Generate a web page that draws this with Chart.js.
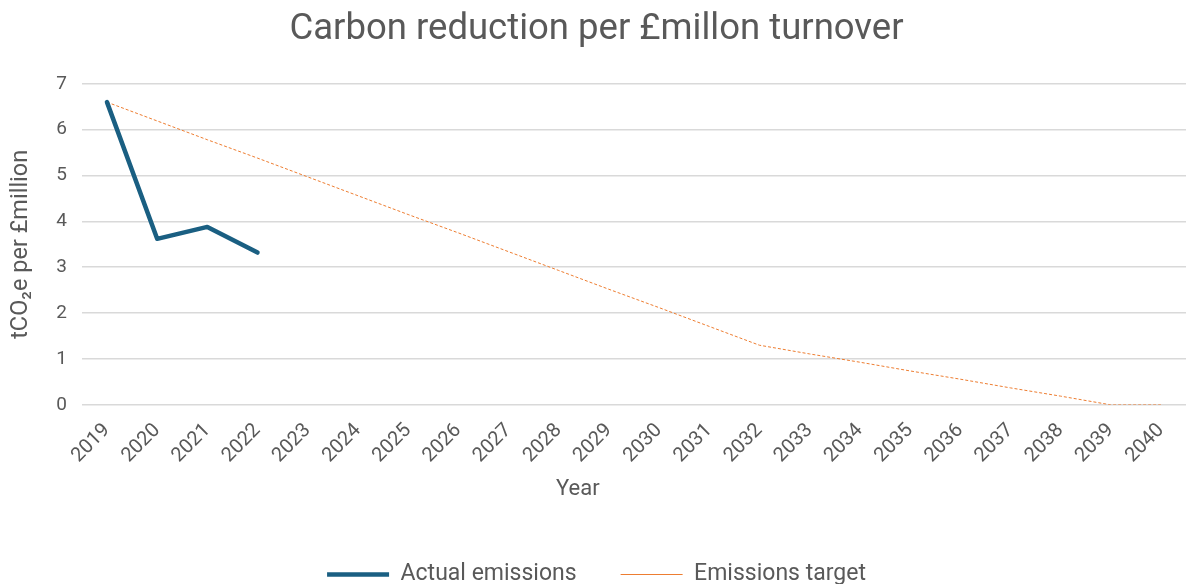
<!DOCTYPE html>
<html>
<head>
<meta charset="utf-8">
<script src="https://cdn.jsdelivr.net/npm/chart.js@4/dist/chart.umd.min.js"></script>
<style>
  html, body { margin: 0; padding: 0; background: #fff; }
  #wrap { width: 1186px; height: 584px; }
</style>
</head>
<body>
<div id="wrap"><canvas id="carbonChart"></canvas></div>
<script>
// Data
const years = ["2019", "2020", "2021", "2022", "2023", "2024", "2025", "2026", "2027", "2028", "2029",
    "2030", "2031", "2032", "2033", "2034", "2035", "2036", "2037", "2038", "2039", "2040"];
const actualEmissions = [6.6, 3.62, 3.88, 3.32];
const emissionsTarget = [6.6, 6.19, 5.78, 5.38, 4.97, 4.56, 4.15, 3.75, 3.34, 2.93, 2.52,
    2.12, 1.71, 1.3, 1.11, 0.93, 0.74, 0.56, 0.37, 0.19, 0, 0];
const yTicks = [0, 1, 2, 3, 4, 5, 6, 7];

const textColor = "#595959";
const fontFamily = "Roboto, 'Liberation Sans', sans-serif";

const ctx = document.getElementById("carbonChart");

new Chart(ctx, {
    type: "line",
    data: {
        labels: years,
        datasets: [
            {
                label: "Actual emissions",
                data: actualEmissions,
                borderColor: "#1a5f82",
                backgroundColor: "#1a5f82",
                borderWidth: 4.5,
                borderCapStyle: "round",
                borderJoinStyle: "round",
                pointRadius: 0,
                tension: 0,
            },
            {
                label: "Emissions target",
                data: emissionsTarget,
                borderColor: "#ed7d31",
                backgroundColor: "#ed7d31",
                borderWidth: 1,
                borderDash: [3, 2],
                pointRadius: 0,
                tension: 0,
            },
        ],
    },
    options: {
        responsive: true,
        maintainAspectRatio: false,
        animation: false,
        layout: { padding: { left: 7, right: 0, top: 2, bottom: -12 } },
        scales: {
            x: {
                offset: true,
                grid: { display: false },
                border: { display: false },
                ticks: {
                    color: textColor,
                    font: { family: fontFamily, size: 20 },
                    minRotation: 45,
                    maxRotation: 45,
                    autoSkip: false,
                    padding: 6,
                },
                title: {
                    display: true,
                    // trailing em spaces nudge the title left, as in the original
                    text: "Year\u2003\u2003\u2003\u2003\u2003",
                    color: textColor,
                    font: { family: fontFamily, size: 22 },
                    padding: { top: 3, bottom: 16 },
                },
            },
            y: {
                min: 0,
                max: 7,
                afterBuildTicks: (axis) => {
                    axis.ticks = yTicks.map((v) => ({ value: v }));
                },
                grid: { color: "#d9d9d9", lineWidth: 1.5, drawTicks: false },
                border: { display: false },
                ticks: {
                    color: textColor,
                    font: { family: fontFamily, size: 19 },
                    padding: 15,
                },
                title: {
                    display: true,
                    text: "tCO₂e per £million",
                    color: textColor,
                    font: { family: fontFamily, size: 23.5 },
                    padding: { top: 0, bottom: 6 },
                },
            },
        },
        plugins: {
            title: {
                display: true,
                text: "Carbon reduction per £millon turnover",
                color: textColor,
                font: { family: fontFamily, size: 36.5, weight: "normal" },
                padding: { top: 6, bottom: 32 },
            },
            legend: {
                position: "bottom",
                labels: {
                    color: textColor,
                    font: { family: fontFamily, size: 23 },
                    usePointStyle: true,
                    pointStyle: "line",
                    pointStyleWidth: 62,
                    padding: 44,
                },
            },
            tooltip: { enabled: false },
        },
    },
});
</script>
</body>
</html>
